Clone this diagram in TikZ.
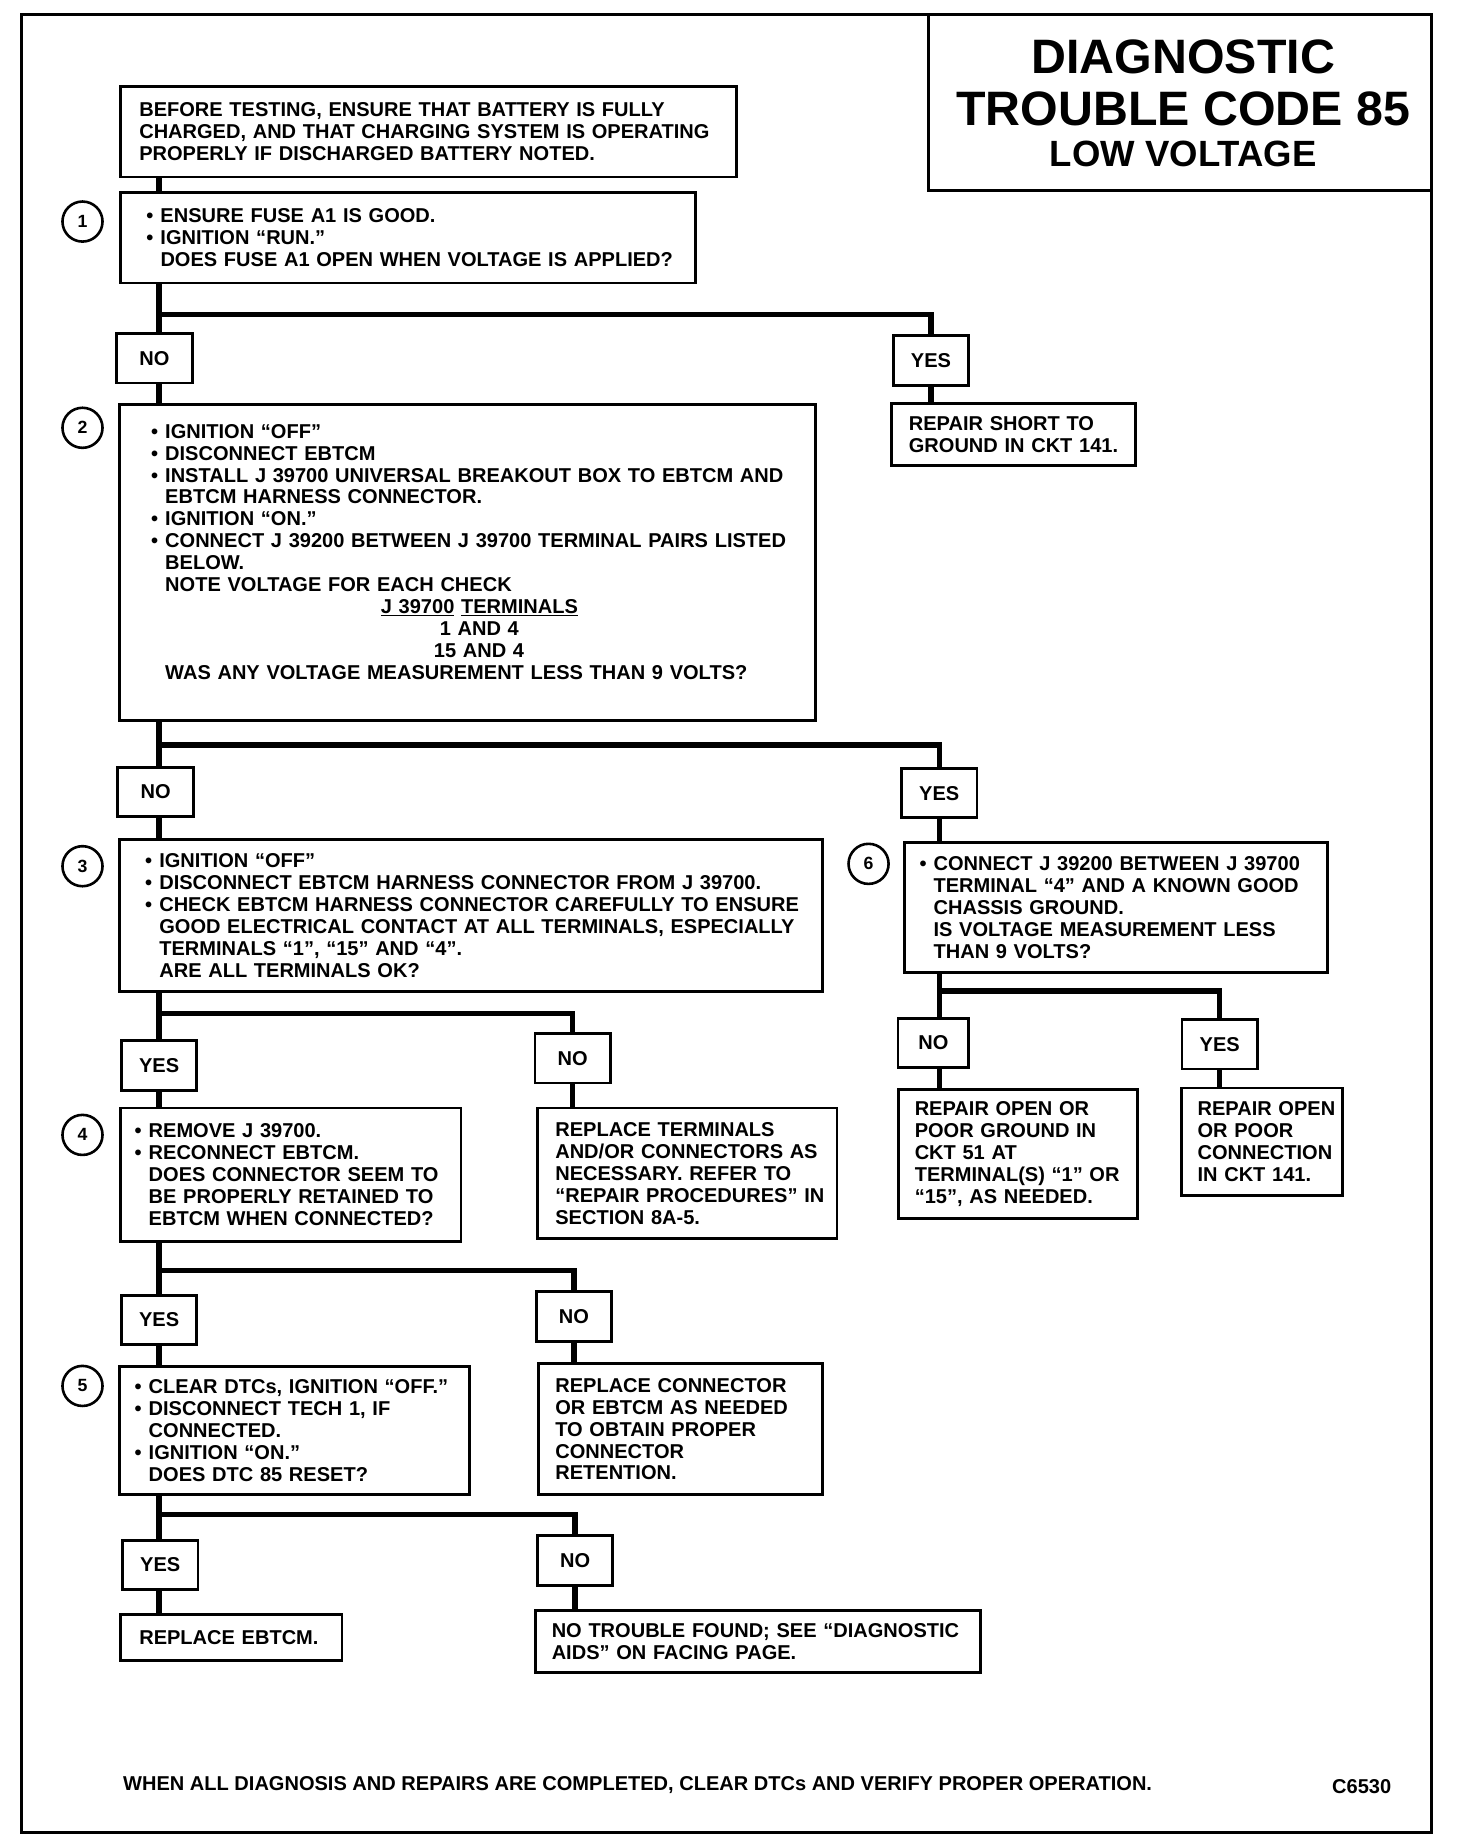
\documentclass[tikz,border=0pt]{standalone}
\usepackage{fontspec}
\setmainfont{Liberation Sans}
\usepackage{tikz}
\usetikzlibrary{positioning}

\newcommand\tx{\bfseries\fontsize{17}{18.6}\selectfont}
\newcommand\bul{\leavevmode\llap{\textbullet\hspace{6pt}}}

\begin{document}
\begin{tikzpicture}[
        x=1pt, y=-1pt,
        frame/.style={line width=2.5pt},
        box/.style={draw, line width=2.4pt, anchor=north west, align=left, inner xsep=0pt, inner ysep=0pt, font=\tx},
        lskip/.style={execute at begin node={\leftskip=#1pt\relax}},
        lab/.style={draw, fill=white, line width=2.4pt, minimum width=64pt, minimum height=42pt, inner sep=0pt, font=\tx},
        numcirc/.style={draw, circle, line width=2.2pt, minimum size=34pt, inner sep=0pt, font=\bfseries\fontsize{15}{15}\selectfont},
        link/.style={line width=4.6pt}
    ]
    \useasboundingbox (0,0) rectangle (1236,1563);

    % Frame and title
    \draw[frame] (18,12) rectangle (1215,1555);
    \draw[frame] (788,12) |- (1215,162);
    \node[font=\bfseries\fontsize{41}{41}\selectfont] (title1) at (1004,48) {DIAGNOSTIC};
    \node[font=\bfseries\fontsize{41}{41}\selectfont] (title2) at (1004,92) {TROUBLE CODE 85};
    \node[font=\bfseries\fontsize{31}{31}\selectfont] (title3) at (1004,131) {LOW VOLTAGE};

    % Start
    \node[box, lskip=16, text width=523pt, minimum height=77pt] (pre) at (101,72)
        {BEFORE TESTING, ENSURE THAT BATTERY IS FULLY\\CHARGED, AND THAT CHARGING SYSTEM IS OPERATING\\PROPERLY IF DISCHARGED BATTERY NOTED.};

    % Step 1
    \node[numcirc] (c1) at (70,188) {1};
    \node[box, lskip=34, text width=488pt, minimum height=77pt] (one) at (101,162)
        {\bul ENSURE FUSE A1 IS GOOD.\\\bul IGNITION “RUN.”\\DOES FUSE A1 OPEN WHEN VOLTAGE IS APPLIED?};
    \node[lab] (no1) at (131,304) {NO};
    \node[lab] (yes1) at (790,306) {YES};
    \node[box, lskip=15, text width=207pt, minimum height=53pt] (short) at (755,341)
        {REPAIR SHORT TO\\GROUND IN CKT 141.};

    % Step 2
    \node[numcirc] (c2) at (70,363) {2};
    \node[box, lskip=39, text width=591pt, minimum height=268pt] (two) at (100,342)
        {\bul IGNITION “OFF”\\\bul DISCONNECT EBTCM\\\bul INSTALL J 39700 UNIVERSAL BREAKOUT BOX TO EBTCM AND\\EBTCM HARNESS CONNECTOR.\\\bul IGNITION “ON.”\\\bul CONNECT J 39200 BETWEEN J 39700 TERMINAL PAIRS LISTED\\BELOW.\\NOTE VOLTAGE FOR EACH CHECK\\\hspace*{183pt}\underline{J 39700} \underline{TERMINALS}\\\hspace*{233pt}1 AND 4\\\hspace*{228pt}15 AND 4\\WAS ANY VOLTAGE MEASUREMENT LESS THAN 9 VOLTS?\\[-0.6pt]\mbox{}};
    \node[lab] (no2) at (132,672) {NO};
    \node[lab] (yes2) at (797,673) {YES};

    % Step 3
    \node[numcirc] (c3) at (70,735) {3};
    \node[box, lskip=34, text width=597pt, minimum height=129pt] (three) at (100,711)
        {\bul IGNITION “OFF”\\\bul DISCONNECT EBTCM HARNESS CONNECTOR FROM J 39700.\\\bul CHECK EBTCM HARNESS CONNECTOR CAREFULLY TO ENSURE\\GOOD ELECTRICAL CONTACT AT ALL TERMINALS, ESPECIALLY\\TERMINALS “1”, “15” AND “4”.\\ARE ALL TERMINALS OK?};
    \node[lab] (yes3) at (135,904) {YES};
    \node[lab] (no3) at (486,898) {NO};
    \node[box, lskip=15, text width=254pt, minimum height=111pt] (term) at (455,939)
        {REPLACE TERMINALS\\AND/OR CONNECTORS AS\\NECESSARY. REFER TO\\“REPAIR PROCEDURES” IN\\SECTION 8A-5.};

    % Step 6
    \node[numcirc] (c6) at (737,733) {6};
    \node[box, lskip=25, text width=359pt, minimum height=110pt] (six) at (766,714)
        {\bul CONNECT J 39200 BETWEEN J 39700\\TERMINAL “4” AND A KNOWN GOOD\\CHASSIS GROUND.\\IS VOLTAGE MEASUREMENT LESS\\THAN 9 VOLTS?};
    \node[lab, minimum width=60pt] (no6) at (792,885) {NO};
    \node[lab] (yes6) at (1035,886) {YES};
    \node[box, lskip=14, text width=203pt, minimum height=110pt] (gnd) at (761,923)
        {REPAIR OPEN OR\\POOR GROUND IN\\CKT 51 AT\\TERMINAL(S) “1” OR\\“15”, AS NEEDED.};
    \node[box, lskip=14, text width=137pt, minimum height=91pt] (conn) at (1001,922)
        {REPAIR OPEN\\OR POOR\\CONNECTION\\IN CKT 141.};

    % Step 4
    \node[numcirc] (c4) at (70,963) {4};
    \node[box, lskip=24, text width=289pt, minimum height=113pt] (four) at (101,939)
        {\bul REMOVE J 39700.\\\bul RECONNECT EBTCM.\\DOES CONNECTOR SEEM TO\\BE PROPERLY RETAINED TO\\EBTCM WHEN CONNECTED?};
    \node[lab] (yes4) at (135,1120) {YES};
    \node[lab] (no4) at (487,1117) {NO};
    \node[box, lskip=14, text width=241pt, minimum height=111pt] (rconn) at (456,1156)
        {REPLACE CONNECTOR\\OR EBTCM AS NEEDED\\TO OBTAIN PROPER\\CONNECTOR\\RETENTION.};

    % Step 5
    \node[numcirc] (c5) at (70,1176) {5};
    \node[box, lskip=25, text width=297pt, minimum height=109pt] (five) at (100,1158)
        {\bul CLEAR DTCs, IGNITION “OFF.”\\\bul DISCONNECT TECH 1, IF\\CONNECTED.\\\bul IGNITION “ON.”\\DOES DTC 85 RESET?};
    \node[lab] (yes5) at (136,1328) {YES};
    \node[lab] (no5) at (488,1324) {NO};
    \node[box, lskip=16, text width=188pt, minimum height=39pt] (rebtcm) at (101,1369)
        {REPLACE EBTCM.};
    \node[box, lskip=14, text width=378pt, minimum height=53pt] (ntf) at (453,1365)
        {NO TROUBLE FOUND; SEE “DIAGNOSTIC\\AIDS” ON FACING PAGE.};

    % Footer
    \node[font=\tx, anchor=west] (foot) at (101,1515) {WHEN ALL DIAGNOSIS AND REPAIRS ARE COMPLETED, CLEAR DTCs AND VERIFY PROPER OPERATION.};
    \node[font=\tx, anchor=east] (code) at (1184,1516) {C6530};

    % Connectors
    \coordinate (spine) at (135,0);
    \coordinate (bar1) at (135,267);
    \coordinate (bar2) at (135,632);
    \coordinate (bar3) at (135,860);
    \coordinate (bar6) at (797,841);
    \coordinate (bar4) at (135,1078);
    \coordinate (bar5) at (135,1285);

    \draw[link] (pre.south -| spine) -- (one.north -| spine);

    % Edges from step 1
    \draw[link] (one.south -| spine) -- (no1.north -| spine);
    \draw[link] (bar1) -| (yes1.north);
    \draw[link] (no1.south -| spine) -- (two.north -| spine);
    \draw[link] (yes1.south) -- (short.north -| yes1.south);

    % Edges from step 2
    \draw[link] (two.south -| spine) -- (no2.north -| spine);
    \draw[link] (bar2) -| (yes2.north);
    \draw[link] (no2.south -| spine) -- (three.north -| spine);
    \draw[link] (yes2.south) -- (six.north -| yes2.south);

    % Edges from step 3
    \draw[link] (three.south -| spine) -- (yes3.north -| spine);
    \draw[link] (bar3) -| (no3.north);
    \draw[link] (yes3.south -| spine) -- (four.north -| spine);
    \draw[link] (no3.south) -- (term.north -| no3.south);

    % Edges from step 6
    \draw[link] (six.south -| bar6) -- (no6.north -| bar6);
    \draw[link] (bar6) -| (yes6.north);
    \draw[link] (no6.south -| bar6) -- (gnd.north -| bar6);
    \draw[link] (yes6.south) -- (conn.north -| yes6.south);

    % Edges from step 4
    \draw[link] (four.south -| spine) -- (yes4.north -| spine);
    \draw[link] (bar4) -| (no4.north);
    \draw[link] (yes4.south -| spine) -- (five.north -| spine);
    \draw[link] (no4.south) -- (rconn.north -| no4.south);

    % Edges from step 5
    \draw[link] (five.south -| spine) -- (yes5.north -| spine);
    \draw[link] (bar5) -| (no5.north);
    \draw[link] (yes5.south -| spine) -- (rebtcm.north -| spine);
    \draw[link] (no5.south) -- (ntf.north -| no5.south);

\end{tikzpicture}
\end{document}
